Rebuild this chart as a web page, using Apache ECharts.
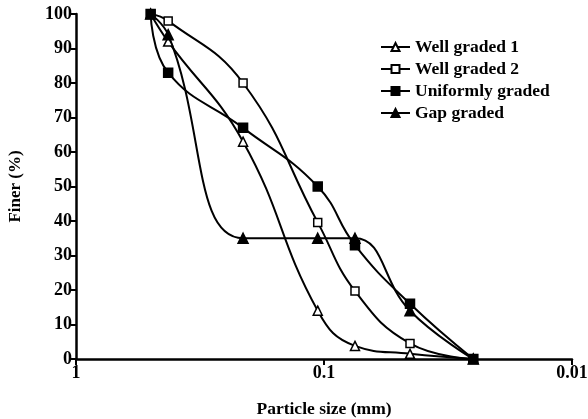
<!DOCTYPE html>
<html>
<head>
<meta charset="utf-8">
<script src="https://cdn.jsdelivr.net/npm/echarts@6/dist/echarts.min.js"></script>
<style>html,body{margin:0;padding:0;background:#fff}#c{width:588px;height:419px}</style>
</head>
<body>
<div id="c"></div>
<script>
const sizes = [0.5, 0.425, 0.212, 0.106, 0.075, 0.045, 0.025];
const wellGraded1 = [100, 92, 63, 14, 3.8, 1.5, 0];
const wellGraded2 = [100, 98, 80, 39.6, 19.7, 4.5, 0];
const uniformlyGraded = [100, 83, 67, 50, 33, 16, 0];
const gapGraded = [100, 94, 35, 35, 35, 14, 0];
const xTickLabels = ['1', '0.1', '0.01'];

const font = 'Liberation Serif';
function pairs(vals){ return sizes.map((s,i)=>[s, vals[i]]); }
function ser(name, vals, symbol, fill, size){
  return {
    name, type:'line', data: pairs(vals), smooth: 0.45,
    symbol, symbolSize: size,
    lineStyle:{color:'#000', width:2},
    itemStyle:{color: fill, borderColor:'#000', borderWidth:1.5},
    emphasis:{disabled:true}
  };
}
const chart = echarts.init(document.getElementById('c'));
chart.setOption({
  animation:false,
  backgroundColor:'#fff',
  grid:{left:76, right:16, top:14, bottom:60, containLabel:false, outerBoundsMode:'none'},
  legend:{
    orient:'vertical', left:375, top:33, itemWidth:29, itemHeight:10, itemGap:4,
    textStyle:{fontFamily:font, fontWeight:'bold', fontSize:17.5, color:'#000', lineHeight:17},
    data:['Well graded 1','Well graded 2','Uniformly graded','Gap graded']
  },
  xAxis:{
    type:'log', logBase:10, min:0.01, max:1, inverse:true,
    name:'Particle size (mm)', nameLocation:'middle', nameGap:41,
    nameTextStyle:{fontFamily:font, fontWeight:'bold', fontSize:17.5, color:'#000'},
    axisLine:{lineStyle:{color:'#000', width:2.5}},
    axisTick:{show:true, length:6, lineStyle:{color:'#000', width:2}},
    minorTick:{show:false},
    splitLine:{show:false},
    axisLabel:{fontFamily:font, fontWeight:'bold', fontSize:18, color:'#000', margin:5,
      formatter:function(v){ const e = Math.round(-Math.log10(v)); return xTickLabels[e] || ''; }}
  },
  yAxis:{
    type:'value', min:0, max:100, interval:10,
    name:'Finer (%)', nameLocation:'middle', nameGap:52,
    nameTextStyle:{fontFamily:font, fontWeight:'bold', fontSize:17, color:'#000'},
    axisLine:{show:true, lineStyle:{color:'#000', width:2.5}},
    axisTick:{show:true, length:5, lineStyle:{color:'#000', width:2}},
    splitLine:{show:false},
    axisLabel:{fontFamily:font, fontWeight:'bold', fontSize:18, color:'#000', margin:4}
  },
  series:[
    ser('Well graded 1', wellGraded1, 'triangle', '#fff', 9),
    ser('Well graded 2', wellGraded2, 'rect', '#fff', 8),
    ser('Uniformly graded', uniformlyGraded, 'rect', '#000', 9),
    ser('Gap graded', gapGraded, 'triangle', '#000', 10)
  ]
});
</script>
</body>
</html>
